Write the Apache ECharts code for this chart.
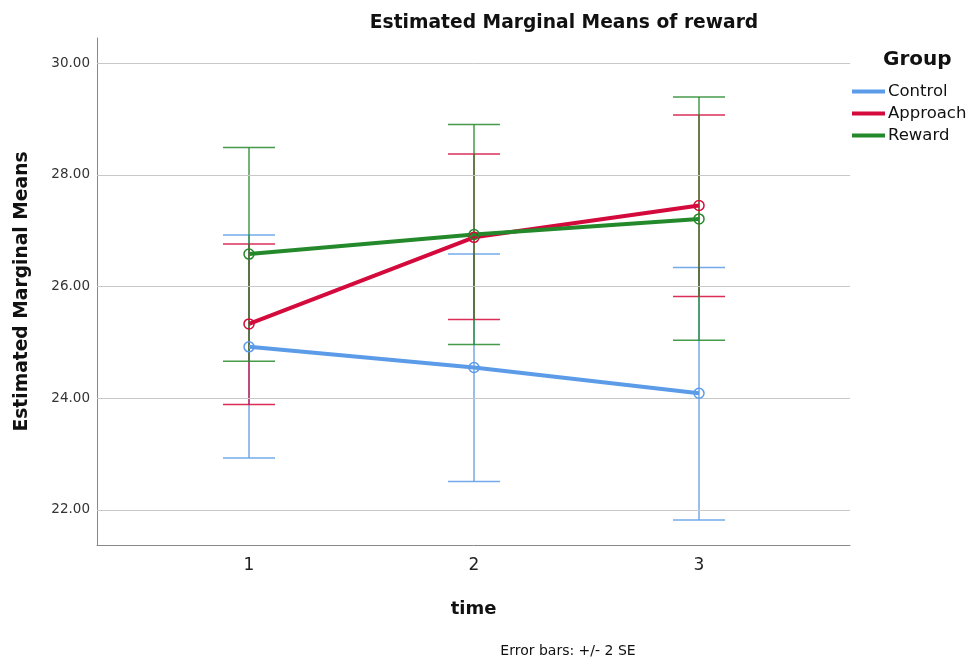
<!DOCTYPE html>
<html>
<head>
<meta charset="utf-8">
<script src="https://cdn.jsdelivr.net/npm/echarts@6/dist/echarts.min.js"></script>
<style>html,body{margin:0;padding:0;background:#fff;}#c{width:975px;height:660px;}</style>
</head>
<body>
<div id="c"></div>
<script>
const timePoints = [1, 2, 3];
const xTicks = [1, 2, 3];
const yTicks = [22, 24, 26, 28, 30];
const groupNames = ['Control', 'Approach', 'Reward'];
const controlMean = [24.92, 24.55, 24.09];
const approachMean = [25.33, 26.88, 27.45];
const rewardMean = [26.58, 26.93, 27.21];
const controlLow = [22.93, 22.51, 21.82];
const controlHigh = [26.92, 26.58, 26.34];
const approachLow = [23.89, 25.41, 25.82];
const approachHigh = [26.76, 28.37, 29.07];
const rewardLow = [24.66, 24.96, 25.04];
const rewardHigh = [28.49, 28.90, 29.39];

const colors = ['#5b9be8', '#d4093c', '#24892a'];
const FONT = 'DejaVu Sans';

function errSeries(name, low, high, color) {
  return {
    type: 'custom', name: name + ' err', z: 2,
    data: timePoints.map((t, i) => [t, low[i], high[i]]),
    encode: { x: 0, y: [1, 2] },
    renderItem: function (params, api) {
      const x = api.value(0);
      const pLo = api.coord([x, api.value(1)]);
      const pHi = api.coord([x, api.value(2)]);
      const hw = 26;
      const st = { stroke: color, lineWidth: 1.5, opacity: 0.85 };
      return { type: 'group', children: [
        { type: 'line', shape: { x1: pLo[0], y1: pLo[1], x2: pHi[0], y2: pHi[1] }, style: st },
        { type: 'line', shape: { x1: pHi[0] - hw, y1: pHi[1], x2: pHi[0] + hw, y2: pHi[1] }, style: st },
        { type: 'line', shape: { x1: pLo[0] - hw, y1: pLo[1], x2: pLo[0] + hw, y2: pLo[1] }, style: st }
      ]};
    }
  };
}
function lineSeries(name, mean, color) {
  return {
    type: 'line', name: name, z: 5,
    data: timePoints.map((t, i) => [t, mean[i]]),
    symbol: 'circle', symbolSize: 10,
    itemStyle: { color: 'rgba(0,0,0,0)', borderColor: color, borderWidth: 1.5 },
    lineStyle: { color: color, width: 4 },
    emphasis: { disabled: true }
  };
}

const chart = echarts.init(document.getElementById('c'), null, { renderer: 'canvas' });
chart.setOption({
  animation: false,
  backgroundColor: '#ffffff',
  title: [
    { text: 'Estimated Marginal Means of reward', left: 559, top: 9, textAlign: 'center',
      textStyle: { fontFamily: FONT, fontSize: 18.7, fontWeight: 'bold', color: '#111' } },
    { text: 'Error bars: +/- 2 SE', left: 563, top: 639, textAlign: 'center',
      textStyle: { fontFamily: FONT, fontSize: 14, fontWeight: 'normal', color: '#111' } },
    { text: 'Group', left: 878, top: 45,
      textStyle: { fontFamily: FONT, fontSize: 20, fontWeight: 'bold', color: '#111' } }
  ],
  legend: {
    data: groupNames.map((n, i) => ({ name: n, itemStyle: { color: colors[i], borderWidth: 0 } })),
    orient: 'vertical', left: 847, top: 78, itemGap: 5,
    icon: 'rect', itemWidth: 33, itemHeight: 4,
    textStyle: { fontFamily: FONT, fontSize: 16.5, color: '#111', padding: [0, 0, 0, -2] }
  },
  grid: { left: 97, right: 125, top: 38, bottom: 115 },
  xAxis: {
    type: 'value', min: 0.3244, max: 3.671,
    name: 'time', nameLocation: 'middle', nameGap: 55,
    nameTextStyle: { fontFamily: FONT, fontSize: 18, fontWeight: 'bold', color: '#111' },
    axisLine: { lineStyle: { color: '#888', width: 1 } },
    axisTick: { show: false },
    splitLine: { show: false },
    axisLabel: { customValues: xTicks, fontFamily: FONT, fontSize: 17, color: '#222', margin: 12 }
  },
  yAxis: {
    type: 'value', min: 21.373, max: 30.448,
    name: 'Estimated Marginal Means', nameLocation: 'middle', nameGap: 65,
    nameTextStyle: { fontFamily: FONT, fontSize: 18.7, fontWeight: 'bold', color: '#111' },
    axisLine: { show: true, lineStyle: { color: '#888', width: 1 } },
    axisTick: { show: false },
    splitLine: { show: false },
    axisLabel: { customValues: yTicks, fontFamily: FONT, fontSize: 13.5, color: '#333', margin: 7,
      formatter: v => v.toFixed(2) }
  },
  series: [
    { type: 'line', name: 'grid', data: [], z: 1, silent: true,
      markLine: { silent: true, symbol: 'none', label: { show: false },
        lineStyle: { color: '#c8c8c8', width: 1, type: 'solid' },
        data: yTicks.map(v => ({ yAxis: v })) } },
    errSeries('Control', controlLow, controlHigh, colors[0]),
    errSeries('Approach', approachLow, approachHigh, colors[1]),
    errSeries('Reward', rewardLow, rewardHigh, colors[2]),
    lineSeries('Control', controlMean, colors[0]),
    lineSeries('Approach', approachMean, colors[1]),
    lineSeries('Reward', rewardMean, colors[2])
  ]
});
</script>
</body>
</html>
